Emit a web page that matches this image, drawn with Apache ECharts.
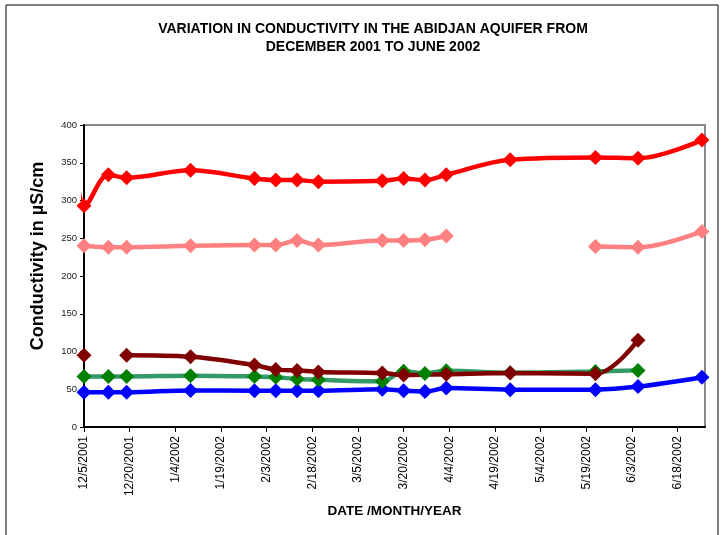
<!DOCTYPE html>
<html lang="en">
<head>
    <meta charset="UTF-8">
    <title>Conductivity - Abidjan aquifer</title>
    <script src="https://cdn.jsdelivr.net/npm/echarts@6/dist/echarts.min.js"></script>
    <style>
        html, body { margin: 0; padding: 0; background: #fff; }
        #chart { width: 726px; height: 535px; }
    </style>
</head>
<body>
    <div id="chart"></div>
    <script>
        // sampling dates (first one is before the axis start, only the line stub shows)
        const dates = ['2001-12-03', '2001-12-05', '2001-12-13', '2001-12-19', '2002-01-09', '2002-01-30',
            '2002-02-06', '2002-02-13', '2002-02-20', '2002-03-13', '2002-03-20', '2002-03-27',
            '2002-04-03', '2002-04-24', '2002-05-22', '2002-06-05', '2002-06-26'];

        // null = no sample (line breaks), undefined = point left out (line joins over it)
        const redValues = [318, 293, 334, 330, 340, 329, 327, 327, 325, 326, 329, 327, 334, 354, 357, 356, 380];
        const pinkValues = [241, 240, 238, 238, 240, 241, 241, 247, 241, 247, 247, 248, 253, null, 239, 238, 259];
        const darkRedValues = [null, 95, null, 95, 93, 82, 76, 75, 73, 71.5, 69, undefined, 70, 71.5, 70.5, 115, null];
        const greenValues = [67.5, 67, 67, 67, 68, 67, 66, 63.5, 62.5, 60.5, 74, 71, 74.5, 72, 73.5, 75, null];
        const blueValues = [46.5, 46, 46, 46, 48.5, 48, 48, 48, 48, 50, 48, 47, 51.5, 49.5, 49.5, 53.5, 66];

        const axisStart = '2001-12-05';
        const axisEnd = '2002-06-27';
        const tickStepDays = 15;
        const yMax = 400;
        const yStep = 50;

        const DAY = 86400000;
        function dayOffset(d) {
            return (Date.parse(d) - Date.parse(axisStart)) / DAY;
        }
        function dayLabel(n) {
            const d = new Date(Date.parse(axisStart) + n * DAY);
            return (d.getUTCMonth() + 1) + '/' + d.getUTCDate() + '/' + d.getUTCFullYear();
        }
        function buildData(values) {
            const out = [];
            dates.forEach(function (d, i) {
                const v = values[i];
                if (v === undefined) return;
                const x = dayOffset(d);
                const item = { value: [x, v === null ? '-' : v] };
                if (x < 0) item.symbol = 'none';
                out.push(item);
            });
            return out;
        }

        function lineSeries(name, values, lineColor, markColor) {
            return {
                name: name,
                type: 'line',
                data: buildData(values),
                smooth: 0.35,
                clip: false,
                symbol: 'diamond',
                symbolSize: 15,
                connectNulls: false,
                lineStyle: { color: lineColor, width: 4.5 },
                itemStyle: { color: markColor }
            };
        }

        const font = 'Arial, "Liberation Sans", sans-serif';
        const chart = echarts.init(document.getElementById('chart'));
        chart.setOption({
            animation: false,
            backgroundColor: '#fff',
            title: {
                text: 'VARIATION IN CONDUCTIVITY IN THE ABIDJAN AQUIFER FROM\nDECEMBER 2001 TO JUNE 2002',
                left: 368,
                top: 15,
                textAlign: 'center',
                textStyle: { fontFamily: font, fontSize: 14, fontWeight: 'bold', color: '#000', lineHeight: 18 }
            },
            grid: {
                left: 84, top: 125, right: 21, bottom: 108,
                show: true, borderColor: '#888', borderWidth: 2
            },
            xAxis: {
                type: 'value',
                min: 0,
                max: dayOffset(axisEnd),
                interval: tickStepDays,
                splitLine: { show: false },
                axisLine: { lineStyle: { color: '#000', width: 2 } },
                axisTick: { length: 5, lineStyle: { color: '#000', width: 1 } },
                axisLabel: {
                    rotate: 90,
                    margin: 9,
                    fontFamily: font,
                    fontSize: 12,
                    color: '#000',
                    showMaxLabel: false,
                    formatter: dayLabel
                },
                name: 'DATE /MONTH/YEAR',
                nameLocation: 'middle',
                nameGap: 77,
                nameTextStyle: { fontFamily: font, fontSize: 13.5, fontWeight: 'bold', color: '#000' }
            },
            yAxis: {
                type: 'value',
                min: 0,
                max: yMax,
                interval: yStep,
                splitLine: { show: false },
                axisLine: { show: true, lineStyle: { color: '#000', width: 2 } },
                axisTick: { show: true, length: 4, lineStyle: { color: '#000', width: 1 } },
                axisLabel: { margin: 7, fontFamily: font, fontSize: 9.5, color: '#222' }
            },
            graphic: [
                {
                    type: 'text',
                    x: 38, y: 256,
                    rotation: Math.PI / 2,
                    style: {
                        text: 'Conductivity in \u00b5S/cm',
                        fontFamily: font, fontSize: 18, fontWeight: 'bold', fill: '#000',
                        textAlign: 'center', textVerticalAlign: 'middle'
                    }
                },
                {
                    type: 'polyline',
                    shape: { points: [[6, 540], [6, 5], [718, 5], [718, 540]] },
                    style: { stroke: '#000', lineWidth: 1, fill: null }
                }
            ],
            series: [
                lineSeries('blue', blueValues, '#0000ff', '#0000ff'),
                lineSeries('green', greenValues, '#339966', '#008000'),
                lineSeries('pink', pinkValues, '#ff8080', '#ff8080'),
                lineSeries('red', redValues, '#ff0000', '#ff0000'),
                lineSeries('dark red', darkRedValues, '#800000', '#800000')
            ]
        });

        window.addEventListener('resize', function () {
            chart.resize();
        });
    </script>
</body>
</html>
